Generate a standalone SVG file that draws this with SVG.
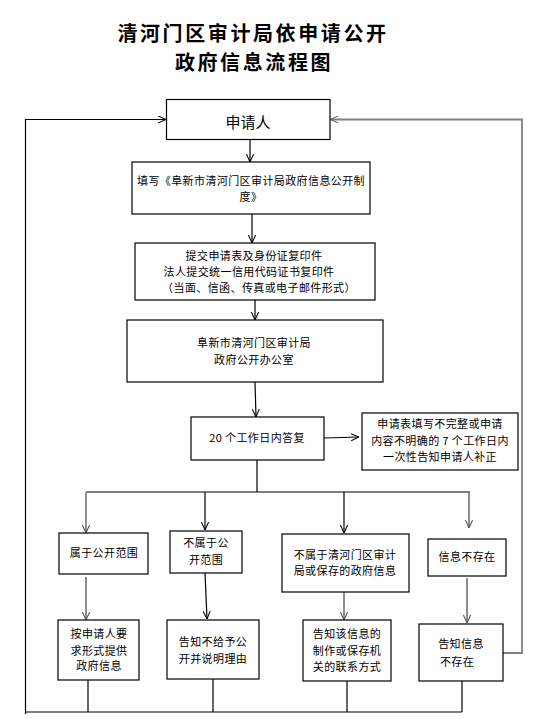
<svg xmlns="http://www.w3.org/2000/svg" width="552" height="719" viewBox="0 0 552 719">
<style>
.box{fill:#fff;stroke:#000;stroke-width:1.2}
.t{font-family:"Noto Sans CJK SC","Liberation Sans",sans-serif;font-size:11px;fill:#000;text-anchor:middle;letter-spacing:0.4px}
.title{font-family:"Noto Sans CJK SC",sans-serif;font-size:20px;font-weight:bold;fill:#000;text-anchor:middle;letter-spacing:2.6px}
.ln{fill:none;stroke:#000;stroke-width:1.2}
.gl{fill:none;stroke:#808080;stroke-width:1.8}
</style>
<defs>
<marker id="ah" viewBox="0 0 10 10" refX="10" refY="5" markerWidth="8" markerHeight="8" markerUnits="userSpaceOnUse" orient="auto">
<path d="M0,0.5 L10,5 L0,9.5" fill="none" stroke="#000" stroke-width="1.3"/>
</marker>
<marker id="ahg" viewBox="0 0 10 10" refX="10" refY="5" markerWidth="8" markerHeight="8" markerUnits="userSpaceOnUse" orient="auto">
<path d="M0,0.5 L10,5 L0,9.5" fill="none" stroke="#555" stroke-width="1.3"/>
</marker>
</defs>
<g id="title">
<text class="title" x="253" y="41">清河门区审计局依申请公开</text>
<text class="title" x="254" y="70">政府信息流程图</text>
</g>
<g id="connectors">
<path class="ln" d="M25.5,714 V119.5 H166" marker-end="url(#ah)"/>
<path class="gl" d="M503,653 H522 V119.5 H330.5" marker-end="url(#ahg)"/>
<path class="ln" d="M250,140 V162" marker-end="url(#ah)"/>
<path class="ln" d="M252,214 V243" marker-end="url(#ah)"/>
<path class="ln" d="M255,300 V320" marker-end="url(#ah)"/>
<path class="ln" d="M255,382 L256,417" marker-end="url(#ah)"/>
<path class="ln" d="M324,438 L359,437" marker-end="url(#ah)"/>
<path class="ln" d="M257,460 V492"/>
<path class="ln" d="M86,492 H470"/>
<path class="gl" d="M86,492 V533" marker-end="url(#ahg)"/>
<path class="ln" d="M205,492 V530" marker-end="url(#ah)"/>
<path class="ln" d="M344,492 V533" marker-end="url(#ah)"/>
<path class="gl" d="M469,492 V528" marker-end="url(#ahg)"/>
<path class="gl" d="M86,577 V620" marker-end="url(#ahg)"/>
<path class="ln" d="M205,573 L207,619" marker-end="url(#ah)"/>
<path class="gl" d="M344,592 V620" marker-end="url(#ahg)"/>
<path class="gl" d="M467,578 V623" marker-end="url(#ahg)"/>
<path class="ln" d="M88,680 V712"/>
<path class="ln" d="M213,679 V712"/>
<path class="ln" d="M347,681 V712"/>
<path class="ln" d="M462,681 V712"/>
<path class="ln" d="M25.5,712 H462"/>
</g>
<g id="n1"><rect class="box" x="166.5" y="99.5" width="163.5" height="40"/><text class="t" x="248" y="128" style="font-size:15px;letter-spacing:0">申请人</text></g>
<g id="n2"><rect class="box" x="132" y="162" width="238" height="52"/><text class="t" x="251" y="185">填写《阜新市清河门区审计局政府信息公开制</text><text class="t" x="251" y="201">度》</text></g>
<g id="n3"><rect class="box" x="135" y="243" width="240" height="57"/><text class="t" x="254" y="260">提交申请表及身份证复印件</text><text class="t" x="249" y="276">法人提交统一信用代码证书复印件</text><text class="t" x="259" y="292">（当面、信函、传真或电子邮件形式）</text></g>
<g id="n4"><rect class="box" x="127" y="320" width="256" height="62"/><text class="t" x="254" y="347">阜新市清河门区审计局</text><text class="t" x="254" y="364">政府公开办公室</text></g>
<g id="n5"><rect class="box" x="191" y="417" width="133" height="43"/><text class="t" x="257" y="442">20 个工作日内答复</text></g>
<g id="n6"><rect class="box" x="362" y="413" width="156" height="57"/><text class="t" x="440" y="428">申请表填写不完整或申请</text><text class="t" x="440" y="445">内容不明确的 7 个工作日内</text><text class="t" x="440" y="461">一次性告知申请人补正</text></g>
<g id="n7"><rect class="box" x="59" y="533" width="89" height="41"/><text class="t" x="104" y="557">属于公开范围</text></g>
<g id="n8"><rect class="box" x="170" y="531" width="72" height="42"/><text class="t" x="206" y="547">不属于公</text><text class="t" x="206" y="564">开范围</text></g>
<g id="n9"><rect class="box" x="282" y="534" width="127" height="58"/><text class="t" x="345" y="559">不属于清河门区审计</text><text class="t" x="345" y="575">局或保存的政府信息</text></g>
<g id="n10"><rect class="box" x="428" y="539" width="78" height="37"/><text class="t" x="467" y="561">信息不存在</text></g>
<g id="n11"><rect class="box" x="58" y="620" width="81" height="60"/><text class="t" x="99" y="638">按申请人要</text><text class="t" x="99" y="655">求形式提供</text><text class="t" x="99" y="670">政府信息</text></g>
<g id="n12"><rect class="box" x="167" y="620" width="92" height="59"/><text class="t" x="213" y="646">告知不给予公</text><text class="t" x="213" y="663">开并说明理由</text></g>
<g id="n13"><rect class="box" x="303" y="620" width="88" height="61"/><text class="t" x="347" y="638">告知该信息的</text><text class="t" x="347" y="655">制作或保存机</text><text class="t" x="347" y="671">关的联系方式</text></g>
<g id="n14"><rect class="box" x="419" y="624" width="84" height="57"/><text class="t" x="461" y="648">告知信息</text><text class="t" x="457" y="666">不存在</text></g>
</svg>
